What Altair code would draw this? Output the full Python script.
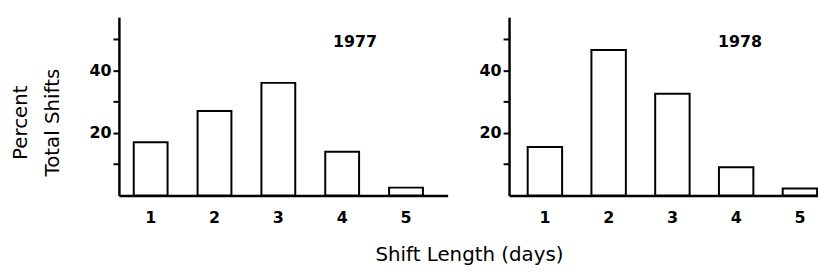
import altair as alt
import pandas as pd

lengths = ["1", "2", "3", "4", "5"]
pct_1977 = [17, 27, 36, 14, 2.5]
pct_1978 = [15.5, 46.5, 32.5, 9, 2.2]
years = ["1977", "1978"]
y_ticks = [10, 20, 30, 40, 50]
y_labeled = [20, 40]

FONT = "DejaVu Sans"
H = 180
YMAX = 57


def panel(values, year, width, pad_inner, pad_outer, align, show_title, dx):
    df = pd.DataFrame({"length": lengths, "pct": values})
    x = alt.X(
        "length:N", sort=lengths,
        scale=alt.Scale(paddingInner=pad_inner, paddingOuter=pad_outer, align=align),
        axis=alt.Axis(title=None, labelAngle=0, ticks=False, labelPadding=14,
                      labelFont=FONT, labelFontSize=16, labelFontWeight="bold",
                      labelColor="black", domainColor="black", domainWidth=2.5),
    )
    label_expr = "indexof([" + ",".join(str(v) for v in y_labeled) + "], datum.value) >= 0 ? datum.label : ''"
    axis_kw = dict(values=y_ticks, labelExpr=label_expr, grid=False, tickSize=6, tickWidth=2,
                   tickColor="black", domainColor="black", domainWidth=2.5, labelPadding=2,
                   labelFont=FONT, labelFontSize=16, labelFontWeight="bold", labelColor="black")
    if show_title:
        axis_kw.update(title=["Percent", "Total Shifts"], titleFont=FONT, titleFontSize=20,
                       titleFontWeight="normal", titleAngle=270, titleX=-109, titleY=106,
                       titleAlign="center", titleBaseline="top", titleLineHeight=32,
                       titleColor="black")
    else:
        axis_kw.update(title=None)
    y = alt.Y("pct:Q", scale=alt.Scale(domain=[0, YMAX], nice=False, zero=True), axis=alt.Axis(**axis_kw))
    bars = alt.Chart(df).mark_bar(fill="white", stroke="black", strokeWidth=2).encode(x=x, y=y)
    txt = alt.Chart(pd.DataFrame({"year": [year]})).mark_text(
        font=FONT, fontSize=16, fontWeight="bold", color="black", dx=dx
    ).encode(x=alt.datum("4"), y=alt.datum(49), text="year:N")
    return alt.layer(bars, txt).properties(width=width, height=H)


p1 = panel(pct_1977, years[0], 332, 0.47, 0.31, 0.375, True, 13)
p2 = panel(pct_1978, years[1], 312, 0.46, 0.153, 0.955, False, 4)

chart = alt.hconcat(p1, p2, spacing=62, bounds="flush").properties(
    title=alt.TitleParams("Shift Length (days)", orient="bottom", anchor="middle", frame="group",
                          font=FONT, fontSize=20, fontWeight="normal", color="black", offset=20,
                          dx=354),
    padding={"left": 112, "top": 8, "right": 706, "bottom": 73},
    autosize=alt.AutoSizeParams(type="none"),
).configure_view(stroke=None)

chart.save("out.html", embed_options={"renderer": "svg", "actions": False})
